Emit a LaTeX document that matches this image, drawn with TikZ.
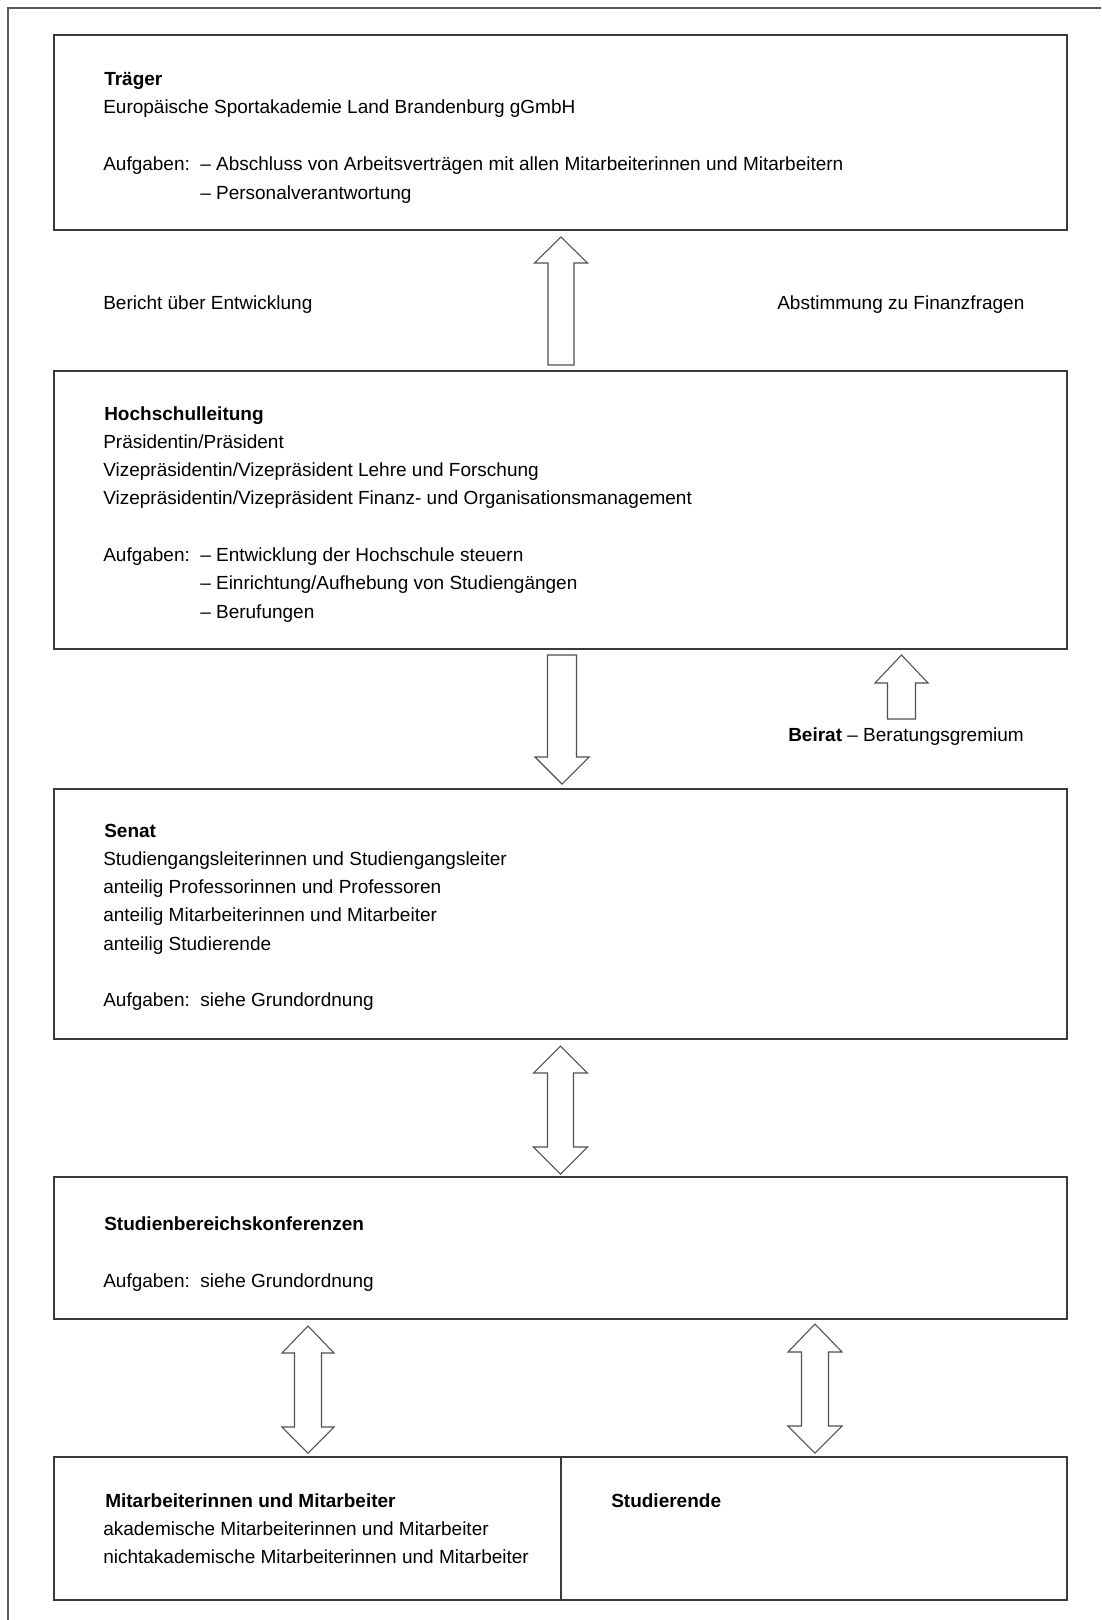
\documentclass[tikz,border=0pt]{standalone}
\usepackage{fontspec}
\setmainfont{Liberation Sans}
\usetikzlibrary{fit}
\definecolor{boxline}{HTML}{3A3A3A}
\definecolor{arrline}{HTML}{505050}
\definecolor{frameline}{HTML}{5A5A5A}
\newcommand\blockarr[6]{% cx, tip, base, tail, half head, half shaft
  \draw[arr] (#1,#2) -- ({#1+#5},#3) -- ({#1+#6},#3) -- ({#1+#6},#4) -- ({#1-#6},#4) -- ({#1-#6},#3) -- ({#1-#5},#3) -- cycle;}
\newcommand\dblarr[7]{% cx, tip1, base1, base2, tip2, half head, half shaft
  \draw[arr] (#1,#2) -- ({#1+#6},#3) -- ({#1+#7},#3) -- ({#1+#7},#4) -- ({#1+#6},#4) -- (#1,#5) -- ({#1-#6},#4) -- ({#1-#7},#4) -- ({#1-#7},#3) -- ({#1-#6},#3) -- cycle;}
\begin{document}
\begin{tikzpicture}[x=0.75pt,y=-0.75pt,
  boxst/.style={draw=boxline, line width=1.1pt, inner sep=0pt},
  arr/.style={draw=arrline, line width=0.8pt, fill=white, line join=miter},
  txt/.style={anchor=base west, inner sep=0pt, font=\fontsize{14.25}{17}\selectfont},
  btxt/.style={txt, font=\fontsize{14.25}{17}\selectfont\bfseries}]
\useasboundingbox (0,0) rectangle (1101,1620);
\fill[white] (0,0) rectangle (1101,1620);
% outer frame (top and left)
\draw[frameline, line width=1.1pt] (8,1620) -- (8,8) -- (1101,8);

% boxes
\node[boxst, fit={(54,35) (1067,230)}] (traeger) {};
\node[boxst, fit={(54,371) (1067,649)}] (leitung) {};
\node[boxst, fit={(54,789) (1067,1039)}] (senat) {};
\node[boxst, fit={(54,1177) (1067,1319)}] (konf) {};
\node[boxst, fit={(54,1457) (561,1600)}] (mitarb) {};
\node[boxst, fit={(561,1457) (1067,1600)}] (stud) {};

% arrows
\blockarr{561}{237}{263}{365}{26.5}{13}
\blockarr{562}{784}{757}{655}{27}{14.5}
\blockarr{901.5}{655}{683}{719}{26.5}{14}
\dblarr{560.5}{1046}{1073}{1147}{1174}{27}{13}
\dblarr{308}{1326}{1353}{1427}{1453}{26}{13.5}
\dblarr{815}{1324}{1352}{1426}{1453}{27}{13.5}

% Traeger
\node[btxt] (t1) at (104,85) {Träger};
\node[txt] (t2) at (103,113.5) {Europäische Sportakademie Land Brandenburg gGmbH};
\node[txt] (t3) at (103,170.5) {Aufgaben:};
\node[txt] (t4) at (200,170.5) {– Abschluss von Arbeitsverträgen mit allen Mitarbeiterinnen und Mitarbeitern};
\node[txt] (t5) at (200,199) {– Personalverantwortung};

% labels between
\node[txt] (bericht) at (103,309) {Bericht über Entwicklung};
\node[txt] (abst) at (777,309) {Abstimmung zu Finanzfragen};

% Hochschulleitung
\node[btxt] (h1) at (104,420) {Hochschulleitung};
\node[txt] (h2) at (103,448.3) {Präsidentin/Präsident};
\node[txt] (h3) at (103,476.6) {Vizepräsidentin/Vizepräsident Lehre und Forschung};
\node[txt] (h4) at (103,504.9) {Vizepräsidentin/Vizepräsident Finanz- und Organisationsmanagement};
\node[txt] (h5) at (103,561.5) {Aufgaben:};
\node[txt] (h6) at (200,561.5) {– Entwicklung der Hochschule steuern};
\node[txt] (h7) at (200,589.8) {– Einrichtung/Aufhebung von Studiengängen};
\node[txt] (h8) at (200,618.1) {– Berufungen};

% Beirat
\node[txt] (beirat) at (788,741) {\bfseries Beirat\mdseries\ – Beratungsgremium};

% Senat
\node[btxt] (s1) at (104,837) {Senat};
\node[txt] (s2) at (103,865.3) {Studiengangsleiterinnen und Studiengangsleiter};
\node[txt] (s3) at (103,893.6) {anteilig Professorinnen und Professoren};
\node[txt] (s4) at (103,921.9) {anteilig Mitarbeiterinnen und Mitarbeiter};
\node[txt] (s5) at (103,950.2) {anteilig Studierende};
\node[txt] (s6) at (103,1006.8) {Aufgaben:\ \ siehe Grundordnung};

% Studienbereichskonferenzen
\node[btxt] (k1) at (104,1230) {Studienbereichskonferenzen};
\node[txt] (k2) at (103,1287) {Aufgaben:\ \ siehe Grundordnung};

% bottom boxes
\node[btxt] (m1) at (105,1507) {Mitarbeiterinnen und Mitarbeiter};
\node[txt] (m2) at (103,1535) {akademische Mitarbeiterinnen und Mitarbeiter};
\node[txt] (m3) at (103,1563) {nichtakademische Mitarbeiterinnen und Mitarbeiter};
\node[btxt] (st1) at (611,1507) {Studierende};
\end{tikzpicture}
\end{document}
